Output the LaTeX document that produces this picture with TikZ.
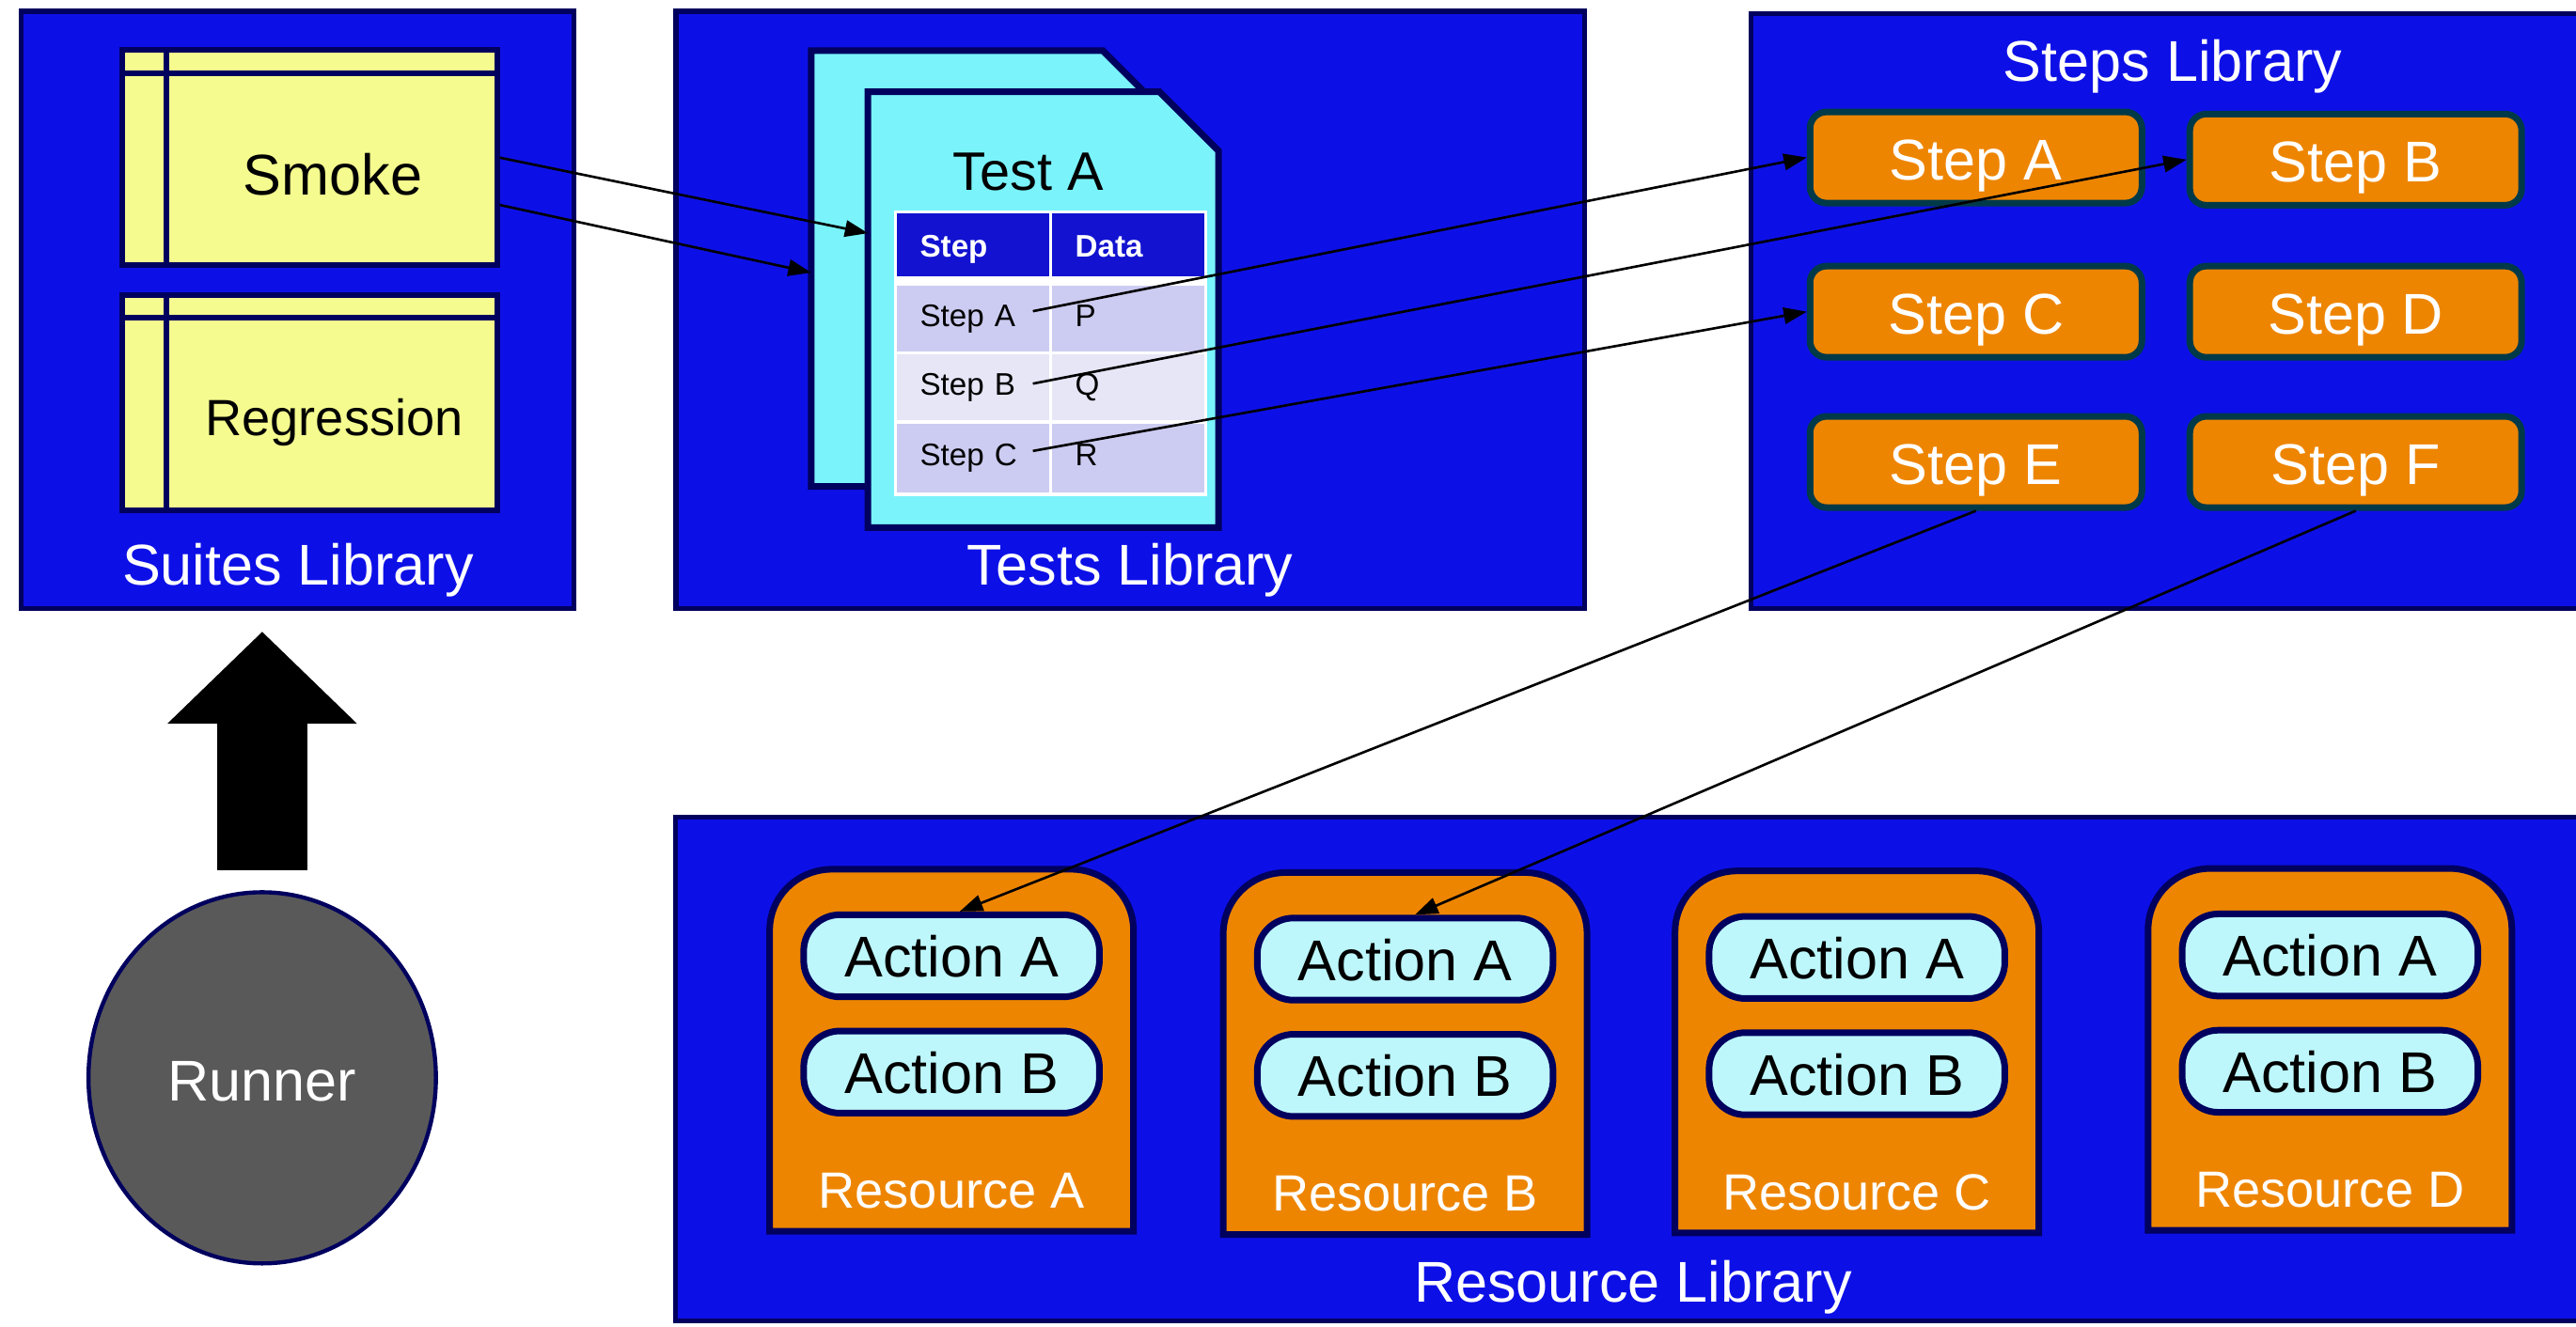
\documentclass[tikz,border=0pt]{standalone}
\usepackage{fontspec}
\setmainfont{Liberation Sans}
\usetikzlibrary{arrows.meta,shapes.geometric}
\definecolor{libblue}{HTML}{0D10E6}
\definecolor{navy}{HTML}{00005E}
\definecolor{suiteyellow}{HTML}{F5FB8E}
\definecolor{doccyan}{HTML}{7AF3FB}
\definecolor{actcyan}{HTML}{BDF7FC}
\definecolor{steporange}{HTML}{EE8500}
\definecolor{stepedge}{HTML}{003A48}
\definecolor{runnergrey}{HTML}{595959}
\definecolor{hdrblue}{HTML}{1212D0}
\definecolor{rowdark}{HTML}{CCCCF2}
\definecolor{rowlight}{HTML}{E6E6F7}
\newcommand\myfs[1]{\fontsize{#1}{#1}\selectfont}
\begin{document}
\begin{tikzpicture}[x=1pt,y=-1pt,
  lib/.style={draw=navy,fill=libblue,line width=3pt,inner sep=0pt},
  libtitle/.style={text=white,font=\myfs{35},inner sep=0pt,anchor=base},
  suitebox/.style={draw=navy,fill=suiteyellow,line width=3.5pt,inner sep=0pt,minimum width=228pt,minimum height=131pt},
  suiteline/.style={draw=navy,line width=3.5pt},
  suitetext/.style={font=\myfs{#1},inner sep=0pt,anchor=base},
  docbox/.style={inner sep=0pt,minimum width=213pt,minimum height=265pt},
  docshape/.style={draw=navy,fill=doccyan,line width=4pt,line join=miter},
  cell/.style={inner ysep=0pt,inner xsep=14pt,text width=64.5pt,align=left,minimum width=92.5pt,font=\myfs{19},text depth=0pt},
  hdrcell/.style={cell,fill=hdrblue,text=white,font=\myfs{19}\bfseries,minimum height=38pt,text height=15pt},
  rowcell/.style={cell,fill=#1,text height=9.5pt},
  stepbox/.style={draw=stepedge,fill=steporange,line width=4pt,rounded corners=10pt,minimum width=202pt,minimum height=55.5pt,inner sep=0pt,text=white,font=\myfs{35},text height=27pt,text depth=0pt},
  resbox/.style={inner sep=0pt,minimum width=221pt,minimum height=220pt},
  resshape/.style={draw=navy,fill=steporange,line width=4pt},
  actbox/.style={draw=navy,fill=actcyan,line width=4pt,rounded corners=22pt,minimum width=180pt,minimum height=50pt,inner sep=0pt,font=\myfs{35},text height=26pt,text depth=0pt},
  reslabel/.style={text=white,font=\myfs{31},inner sep=0pt,anchor=base},
  runnerstyle/.style={ellipse,draw=navy,fill=runnergrey,line width=2.5pt,minimum width=211.5pt,minimum height=226pt,inner sep=0pt,text=white,font=\myfs{35},text height=28.6pt,text depth=0pt},
  bigarrow/.style={line width=55pt,-{Triangle[length=56pt,width=112pt]},black},
  arr/.style={line width=1.5pt,-{Triangle[length=14pt,width=10pt]},black}
]
\useasboundingbox (0,0) rectangle (1568,808);
\clip (0,0) rectangle (1568,808);
\fill[white] (0,0) rectangle (1568,808);

% libraries
\node[lib,minimum width=336.5pt,minimum height=363.7pt] (suites) at (181.25,188.65) {};
\node[lib,minimum width=553pt,minimum height=363.7pt] (tests) at (688,188.65) {};
\node[lib,minimum width=524pt,minimum height=362.3pt] (steps) at (1328,189.35) {};
\node[lib,minimum width=1179pt,minimum height=307pt] (reslib) at (1000.5,651) {};

\node[libtitle] (suitesT) at (181.4,356.5) {Suites Library};
\node[libtitle] (testsT) at (688,356.5) {Tests Library};
\node[libtitle] (stepsT) at (1322.5,49.4) {Steps Library};
\node[libtitle] (reslibT) at (994,793) {Resource Library};

% suites
\node[suitebox] (smoke) at (188.5,96) {};
\draw[suiteline] ([xshift=28.5pt]smoke.north west) -- ([xshift=28.5pt]smoke.south west);
\draw[suiteline] ([yshift=-16pt]smoke.north west) -- ([yshift=-16pt]smoke.north east);
\node[suitetext=35] (smokeT) at (202.5,118.7) {Smoke};
\node[suitebox] (regr) at (188.5,245) {};
\draw[suiteline] ([xshift=28.5pt]regr.north west) -- ([xshift=28.5pt]regr.south west);
\draw[suiteline] ([yshift=-15.5pt]regr.north west) -- ([yshift=-15.5pt]regr.north east);
\node[suitetext=31] (regrT) at (203.5,265) {Regression};

% test documents
\node[docbox] (back) at (600.5,163.5) {};
\draw[docshape] (back.north west) -- ([xshift=-36pt]back.north east) -- ([yshift=-36pt]back.north east) -- (back.south east) -- (back.south west) -- cycle;
\node[docbox] (front) at (635,188.5) {};
\draw[docshape] (front.north west) -- ([xshift=-36pt]front.north east) -- ([yshift=-36pt]front.north east) -- (front.south east) -- (front.south west) -- cycle;
\node[anchor=base,font=\myfs{33},inner sep=0pt] (testA) at (626,115.6) {Test A};

% table
\node[fill=white,inner sep=0pt,minimum width=191pt,minimum height=174pt] (tbl) at (639.5,215) {};
\node[hdrcell] (hs) at (592.25,149) {Step};
\node[hdrcell] (hd) at (686.75,149) {Data};
\node[rowcell=rowdark,minimum height=40pt] (s1) at (592.25,194) {Step A};
\node[rowcell=rowdark,minimum height=40pt] (d1) at (686.75,194) {P};
\node[rowcell=rowlight,minimum height=40pt] (s2) at (592.25,236) {Step B};
\node[rowcell=rowlight,minimum height=40pt] (d2) at (686.75,236) {Q};
\node[rowcell=rowdark,minimum height=42pt] (s3) at (592.25,279) {Step C};
\node[rowcell=rowdark,minimum height=42pt] (d3) at (686.75,279) {R};

% steps
\node[stepbox] (stA) at (1202.75,95.9) {Step A};
\node[stepbox] (stB) at (1433.9,97.2) {Step B};
\node[stepbox] (stC) at (1202.75,189.8) {Step C};
\node[stepbox] (stD) at (1433.9,189.8) {Step D};
\node[stepbox] (stE) at (1202.75,281.3) {Step E};
\node[stepbox] (stF) at (1433.9,281.3) {Step F};

% resources
\foreach \n/\x/\t in {A/579.2/527.5,B/855.3/529.5,C/1130.3/528.5,D/1418.25/527}{
  \node[resbox] (r\n) at (\x,{\t+112}) {};
  \draw[resshape] ([yshift=-37pt]r\n.north west) arc[start angle=180,end angle=90,x radius=38pt,y radius=37pt] -- ([xshift=-38pt]r\n.north east) arc[start angle=90,end angle=0,x radius=38pt,y radius=37pt] -- (r\n.south east) -- (r\n.south west) -- cycle;
  \node[actbox] (r\n-a) at (\x,{\t+54.5}) {Action A};
  \node[actbox] (r\n-b) at (\x,{\t+125.3}) {Action B};
  \node[reslabel] (r\n-l) at (\x,{\t+208}) {Resource \n};
}

% runner
\node[runnerstyle] (runner) at (159.6,656.3) {Runner};
\coordinate (tipAt) at (runner.north |- suites.south);
\draw[bigarrow] ([yshift=12.3pt]runner.north) -- ([yshift=-12.6pt]tipAt);

% connectors
\draw[arr] (smoke.east) -- ([yshift=46.5pt]front.west);
\draw[arr] ([yshift=-28.8pt]smoke.east) -- ([yshift=-2.5pt]back.west);
\draw[arr] ([xshift=-10pt,yshift=4.5pt]s1.east) -- (stA.west);
\draw[arr] ([xshift=-10pt,yshift=2.4pt]s2.east) -- (stB.west);
\draw[arr] ([xshift=-10pt,yshift=4.4pt]s3.east) -- (stC.west);
\draw[arr] (stE.south) -- ([xshift=5pt]rA-a.north);
\draw[arr] (stF.south) -- ([xshift=6pt]rB-a.north);
\end{tikzpicture}
\end{document}
